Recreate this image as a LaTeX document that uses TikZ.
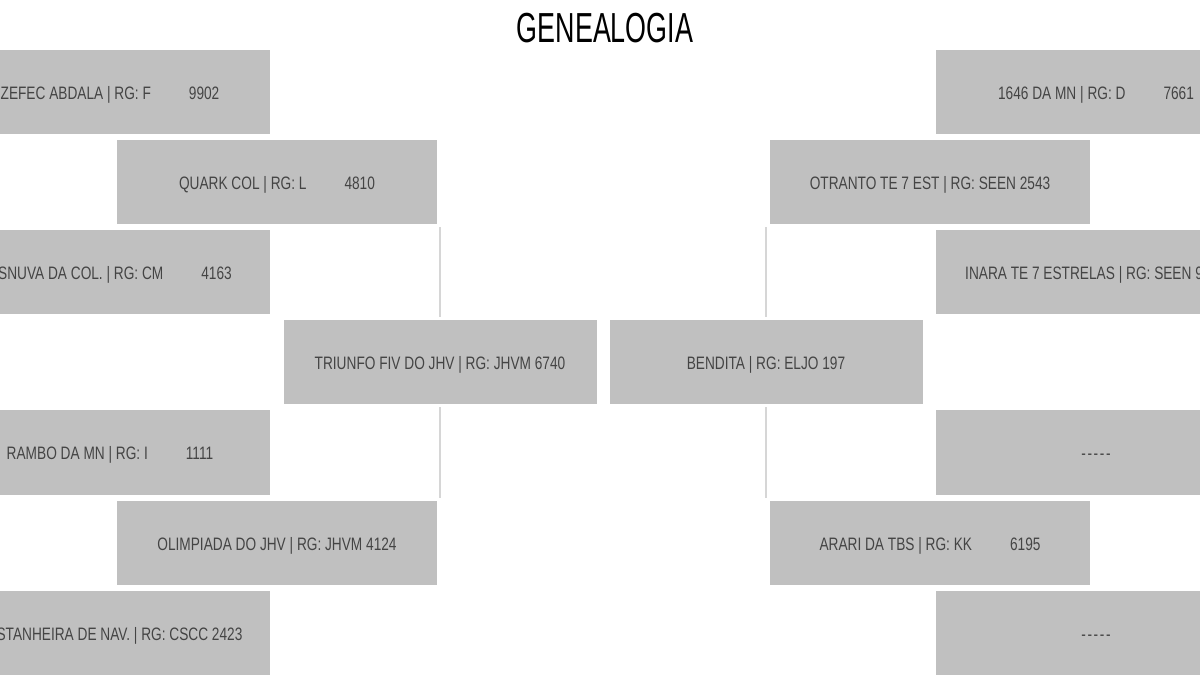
\documentclass[tikz,border=0pt]{standalone}
\usepackage{fontspec}
\setmainfont{Liberation Sans}[FakeStretch=0.76]
\newfontfamily\titelfont{Liberation Sans}[FakeStretch=0.64]
\definecolor{boxgrau}{HTML}{C0C0C0}
\definecolor{liniengrau}{HTML}{D6D6D6}
\definecolor{textgrau}{HTML}{444444}
\newcommand\strich{-\kern1.6pt-\kern1.6pt-\kern1.6pt-\kern1.6pt-}
\begin{document}
\begin{tikzpicture}[x=1pt, y=-1pt,
	schrift/.style={text=textgrau, font=\fontsize{18}{20}\selectfont, text height=15pt, text depth=0pt, inner sep=0pt},
	tier/.style={schrift, rectangle, fill=boxgrau, minimum width=320pt, minimum height=84pt, outer sep=0pt},
	haupt/.style={tier, minimum width=313pt},
	linie/.style={line width=2pt, draw=liniengrau, shorten <=3pt, shorten >=3pt}]
	\useasboundingbox (0,0) rectangle (1200,700);
	\clip (0,0) rectangle (1200,700);
	\node[anchor=base, font=\titelfont\fontsize{42}{44}\selectfont] (titel) at (605,43) {GENEALOGIA};%Titel
	% Vaterseite
	\node[tier] (zefec) at (110,92) {ZEFEC ABDALA | RG: F\hspace{38pt}9902};
	\node[tier] (quark) at (277,182.5) {QUARK COL | RG: L\hspace{38pt}4810};
	\node[tier] (snuva) at (110,272) {};
	\node[schrift, anchor=east] (snuvatext) at (232,272) {SNUVA DA COL. | RG: CM\hspace{38pt}4163};
	\node[haupt] (triunfo) at (440,362.5) {TRIUNFO FIV DO JHV | RG: JHVM 6740};
	\node[tier] (rambo) at (110,452.5) {RAMBO DA MN | RG: I\hspace{38pt}1111};
	\node[tier] (olimpiada) at (277,542.5) {OLIMPIADA DO JHV | RG: JHVM 4124};
	\node[tier] (castanheira) at (110,633) {CASTANHEIRA DE NAV. | RG: CSCC 2423};
	% Mutterseite
	\node[tier] (damn) at (1096,92) {1646 DA MN | RG: D\hspace{38pt}7661};
	\node[tier] (otranto) at (930,182.5) {OTRANTO TE 7 EST | RG: SEEN 2543};
	\node[tier] (inara) at (1096,272) {};
	\node[schrift, anchor=west] (inaratext) at (965,272) {INARA TE 7 ESTRELAS | RG: SEEN 9};
	\node[haupt] (bendita) at (766,362.5) {BENDITA | RG: ELJO 197};
	\node[tier] (leer1) at (1096,452.5) {\strich};
	\node[tier] (arari) at (930,542.5) {ARARI DA TBS | RG: KK\hspace{38pt}6195};
	\node[tier] (leer2) at (1096,633) {\strich};
	% Linien
	\draw[linie] (quark.south east -| triunfo.north) -- (triunfo.north);
	\draw[linie] (triunfo.south) -- (olimpiada.north east -| triunfo.south);
	\draw[linie] (otranto.south west -| bendita.north) -- (bendita.north);
	\draw[linie] (bendita.south) -- (arari.north west -| bendita.south);
\end{tikzpicture}
\end{document}
